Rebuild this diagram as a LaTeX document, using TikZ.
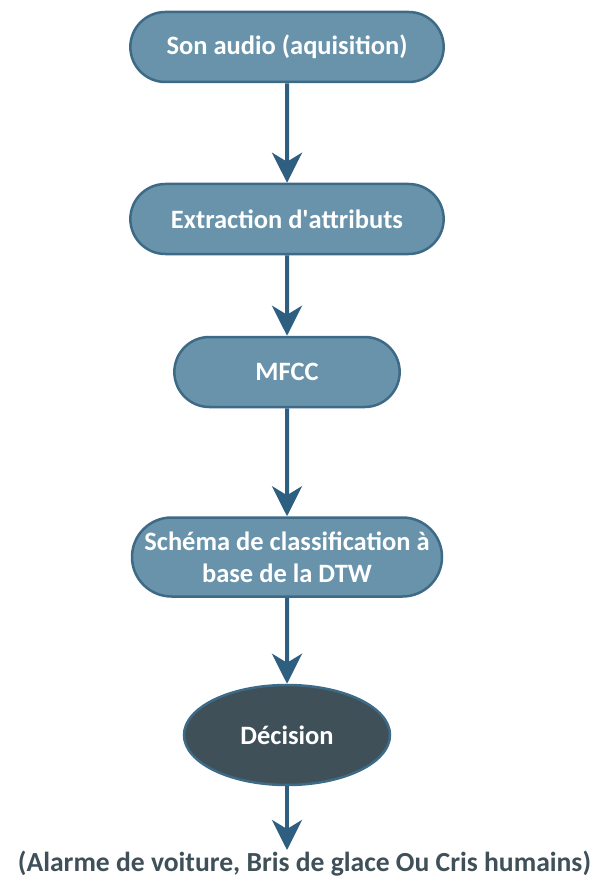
\documentclass[tikz,border=0pt]{standalone}
\usepackage{fontspec}
\setmainfont{Carlito}
\usetikzlibrary{shapes,positioning,arrows.meta}
\definecolor{boxblue}{HTML}{6893AA}
\definecolor{boxedge}{HTML}{3D6A86}
\definecolor{darkslate}{HTML}{3F5059}
\definecolor{arrowblue}{HTML}{2E5E80}
\tikzstyle{stepbox}=[draw=boxedge, fill=boxblue, line width=2.5pt,
  rounded rectangle, minimum height=70pt, text=white, align=center,
  font=\bfseries\fontsize{26.5}{32}\selectfont]
\tikzstyle{decide}=[draw=boxedge, fill=darkslate, line width=2.5pt,
  ellipse, minimum width=206pt, minimum height=100pt, text=white,
  font=\bfseries\fontsize{26.5}{32}\selectfont]
\tikzstyle{link}=[-{Stealth[length=30pt,width=30pt,inset=9pt]},
  arrowblue, line width=4pt]

\begin{document}
\begin{tikzpicture}[on grid]
  \useasboundingbox (0,0) rectangle (609pt,-877pt);
  \node[stepbox, minimum width=320pt] (son) at (287pt,-47pt) {Son audio (aquisition)};
  \node[stepbox, minimum width=320pt, below=172pt of son] (extr) {Extraction d\textquotesingle attributs};
  \node[stepbox, minimum width=232pt, below=153pt of extr] (mfcc) {MFCC};
  \node[stepbox, minimum width=314pt, minimum height=79pt, inner xsep=2pt, inner ysep=4pt,
    below=185pt of mfcc] (dtw) {Schéma de classification à\\base de la DTW};
  \node[decide, below=178pt of dtw] (dec) {Décision};
  \node[font=\bfseries\fontsize{27.6}{33}\selectfont, text=darkslate, anchor=north, inner sep=1pt]
    (res) at (304.5pt,-850pt) {(Alarme de voiture, Bris de glace Ou Cris humains)};

  \draw[link] (son) -- (extr);
  \draw[link] (extr) -- (mfcc);
  \draw[link] (mfcc) -- (dtw);
  \draw[link] (dtw) -- (dec);
  \draw[link] (dec) -- (dec |- res.north);
\end{tikzpicture}
\end{document}
